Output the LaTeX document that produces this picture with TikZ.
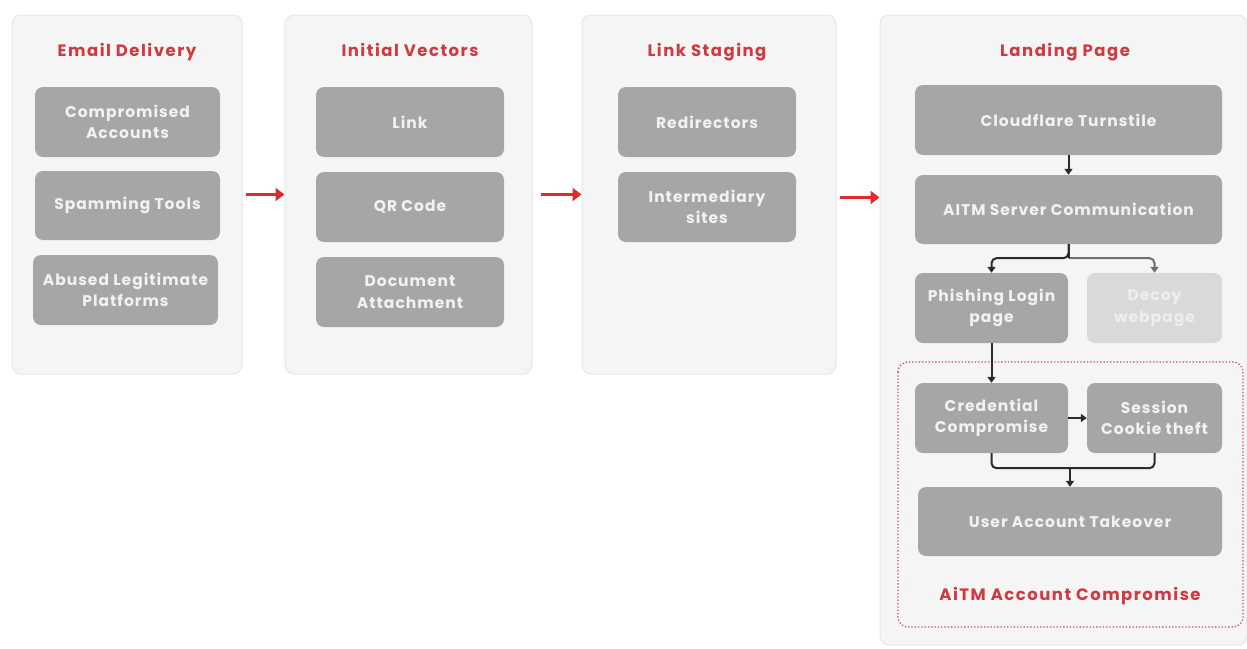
\documentclass[tikz,border=0pt]{standalone}
\usepackage{fontspec}
\setmainfont{Poppins}
\usetikzlibrary{arrows.meta,calc}
\definecolor{panelfill}{HTML}{F5F5F5}
\definecolor{panelborder}{HTML}{E6E6E6}
\definecolor{boxgray}{HTML}{A6A6A6}
\definecolor{boxtext}{HTML}{F2F2F2}
\definecolor{decoyfill}{HTML}{D9D9D9}
\definecolor{decoytext}{HTML}{EEEEEE}
\definecolor{titlered}{HTML}{D2393F}
\definecolor{arrowred}{HTML}{E12A2A}
\definecolor{dotred}{HTML}{D24A4A}
\definecolor{linkdark}{HTML}{2B2B2B}
\definecolor{linkgray}{HTML}{6E6E6E}
\begin{document}
\begin{tikzpicture}[x=1pt,y=-1pt,
  panel/.style={draw=panelborder, fill=panelfill, rounded corners=9pt, line width=1pt, inner sep=0pt},
  ttl/.style={text=titlered, anchor=base, inner sep=0pt,
     font=\bfseries\fontsize{16.5}{20}\selectfont\addfontfeatures{LetterSpace=9}},
  box/.style={fill=boxgray, rounded corners=8pt, text=boxtext, align=center, inner sep=0pt,
     font=\bfseries\fontsize{15.5}{21.5}\selectfont\addfontfeatures{LetterSpace=6.5}},
  decoybox/.style={box, fill=decoyfill, text=decoytext},
  redarrow/.style={draw=arrowred, line width=3pt, -{Triangle[length=9pt,width=13pt]}},
  blk/.style={draw=linkdark, line width=2pt, rounded corners=5pt, -{Triangle[length=6pt,width=8pt]}},
  blkline/.style={draw=linkdark, line width=2pt, rounded corners=5pt},
  gry/.style={draw=linkgray, line width=2pt, rounded corners=5pt, -{Triangle[length=6pt,width=8pt]}}
]
\useasboundingbox[fill=white] (0,0) rectangle (1247,648);

% panels
\node[panel, minimum width=230pt, minimum height=359pt] (p1) at (127,194.5) {};
\node[panel, minimum width=247pt, minimum height=359pt] (p2) at (408.5,194.5) {};
\node[panel, minimum width=254pt, minimum height=359pt] (p3) at (709,194.5) {};
\node[panel, minimum width=367pt, minimum height=630pt] (p4) at (1063.5,330) {};

% titles
\node[ttl] (t1) at (127,56) {Email Delivery};
\node[ttl] (t2) at (410,56) {Initial Vectors};
\node[ttl] (t3) at (707,56) {Link Staging};
\node[ttl] (t4) at (1065,56) {Landing Page};

% panel 1
\node[box, minimum width=185pt, minimum height=70pt] (b11) at (127.5,122) {Compromised\\Accounts};
\node[box, minimum width=185pt, minimum height=69pt] (b12) at (127.5,205.5) {Spamming Tools};
\node[box, minimum width=185pt, minimum height=70pt] (b13) at (125.5,290) {Abused Legitimate\\Platforms};

% panel 2
\node[box, minimum width=188pt, minimum height=70pt] (b21) at (410,122) {Link};
\node[box, minimum width=188pt, minimum height=70pt] (b22) at (410,207) {QR Code};
\node[box, minimum width=188pt, minimum height=70pt] (b23) at (410,292) {Document\\Attachment};

% panel 3
\node[box, minimum width=178pt, minimum height=70pt] (b31) at (707,122) {Redirectors};
\node[box, minimum width=178pt, minimum height=70pt] (b32) at (707,207) {Intermediary\\sites};

% panel 4
\node[box, minimum width=307pt, minimum height=70pt] (cf) at (1068.5,120) {Cloudflare Turnstile};
\node[box, minimum width=307pt, minimum height=69pt] (aitm) at (1068.5,209.5) {AITM Server Communication};
\node[box, minimum width=153pt, minimum height=70pt] (phish) at (991.5,308) {Phishing Login\\page};
\node[decoybox, minimum width=135pt, minimum height=70pt] (decoy) at (1154.5,308) {Decoy\\webpage};

\draw[dotred, line width=1.3pt, dotted, rounded corners=10pt] (898,362) rectangle (1243,627);
\node[box, minimum width=153pt, minimum height=70pt] (cred) at (991.5,418) {Credential\\Compromise};
\node[box, minimum width=135pt, minimum height=70pt] (sess) at (1154.5,418) {Session\\Cookie theft};
\node[box, minimum width=304pt, minimum height=69pt] (uat) at (1070,521.5) {User Account Takeover};
\node[ttl] (t5) at (1070,600) {AiTM Account Compromise};

% red arrows between stages
\draw[redarrow, shorten <=3pt] (p1.east) -- (p2.west);
\draw[redarrow, shorten <=8pt] (p2.east) -- (p3.west);
\draw[redarrow, shorten <=3pt] ($(p3.east)+(0,3)$) -- ($(p4.west |- p3.east)+(0,3)$);

% flow arrows
\draw[blk] (cf.south) -- (aitm.north);
\coordinate (split) at ($(aitm.south)+(0,14)$);
\draw[blk] (aitm.south) -- (split) -| (phish.north);
\draw[gry] (split) -| (decoy.north);
\draw[blkline] (aitm.south) -- (split);
\draw[blk] (phish.south) -- (cred.north);
\draw[blk] (cred.east) -- (sess.west);
\coordinate (merge) at ($(cred.south)+(0,15)$);
\draw[blkline] (cred.south) -- (merge) -| (sess.south);
\draw[blk] (merge -| uat.north) -- (uat.north);
\end{tikzpicture}
\end{document}
